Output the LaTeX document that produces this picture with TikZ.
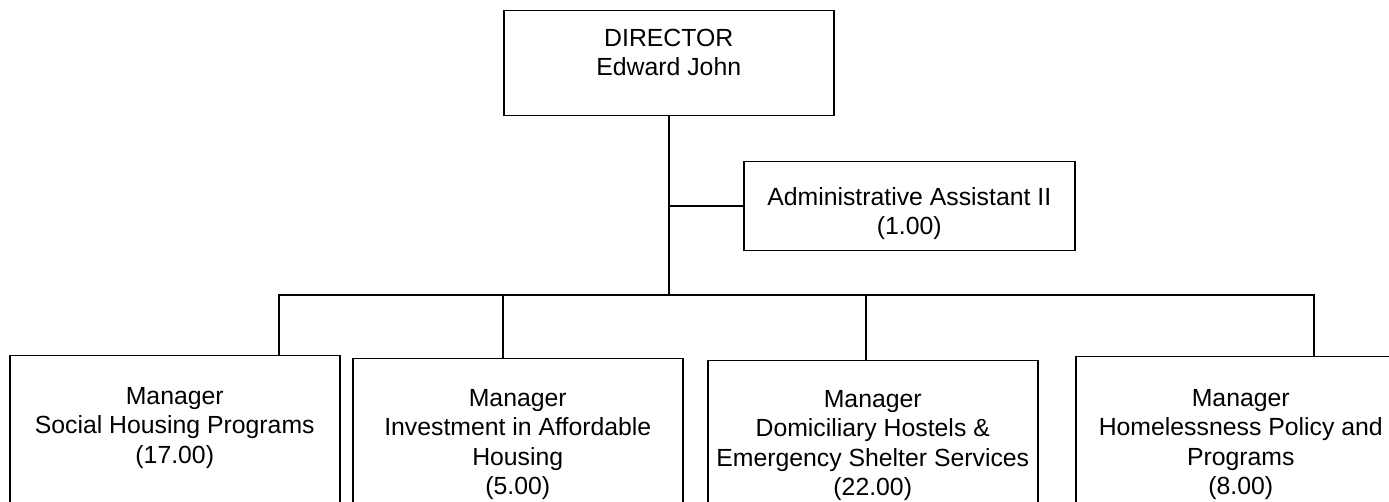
\documentclass[tikz,border=0pt]{standalone}
\usepackage{fontspec}
\setmainfont{Liberation Sans}
\begin{document}
\begin{tikzpicture}[x=1pt,y=-1pt,
  orgbox/.style={draw, line width=1.5pt, rectangle, anchor=north west, inner sep=0pt},
  orgtext/.style={anchor=north, inner sep=0pt, align=center,
    font=\fontsize{24.8}{29.5}\selectfont},
  link/.style={line width=1.5pt}]
\useasboundingbox (0,0) rectangle (1389,502);

% boxes
\node[orgbox, minimum width=330pt, minimum height=105pt] (dir) at (503,10) {};
\node[orgbox, minimum width=331pt, minimum height=89pt] (adm) at (743,161) {};
\node[orgbox, minimum width=330pt, minimum height=170pt] (m1) at (9,355) {};
\node[orgbox, minimum width=330pt, minimum height=170pt] (m2) at (352,358) {};
\node[orgbox, minimum width=330pt, minimum height=170pt] (m3) at (707,360) {};
\node[orgbox, minimum width=330pt, minimum height=170pt] (m4) at (1075,356) {};

% texts
\node[orgtext] (tdir) at ([yshift=-16pt]dir.north) {\rule{0pt}{20pt}DIRECTOR\\Edward John};
\node[orgtext] (tadm) at ([yshift=-24pt]adm.north) {\rule{0pt}{20pt}Administrative Assistant II\\(1.00)};
\node[orgtext] (tm1) at ([yshift=-29pt]m1.north) {\rule{0pt}{20pt}Manager\\Social Housing Programs\\(17.00)};
\node[orgtext] (tm2) at ([yshift=-28pt]m2.north) {\rule{0pt}{20pt}Manager\\Investment in Affordable\\Housing\\(5.00)};
\node[orgtext] (tm3) at ([yshift=-27pt]m3.north) {\rule{0pt}{20pt}Manager\\Domiciliary Hostels \&\\Emergency Shelter Services\\(22.00)};
\node[orgtext] (tm4) at ([yshift=-30pt]m4.north) {\rule{0pt}{20pt}Manager\\Homelessness Policy and\\Programs\\(8.00)};

% bus and drop points
\coordinate (busL) at (279,295);
\coordinate (d2) at (503,295);
\coordinate (d3) at (866,295);
\coordinate (busR) at (1314,295);

% connectors
\draw[link] (dir.south) -- (dir.south |- busL);
\draw[link] (dir.south |- adm.west) -- (adm.west);
\draw[link] (busL |- m1.north) -- (busL) -- (busR) -- (busR |- m4.north);
\draw[link] (d2) -- (d2 |- m2.north);
\draw[link] (d3) -- (d3 |- m3.north);
\end{tikzpicture}
\end{document}
